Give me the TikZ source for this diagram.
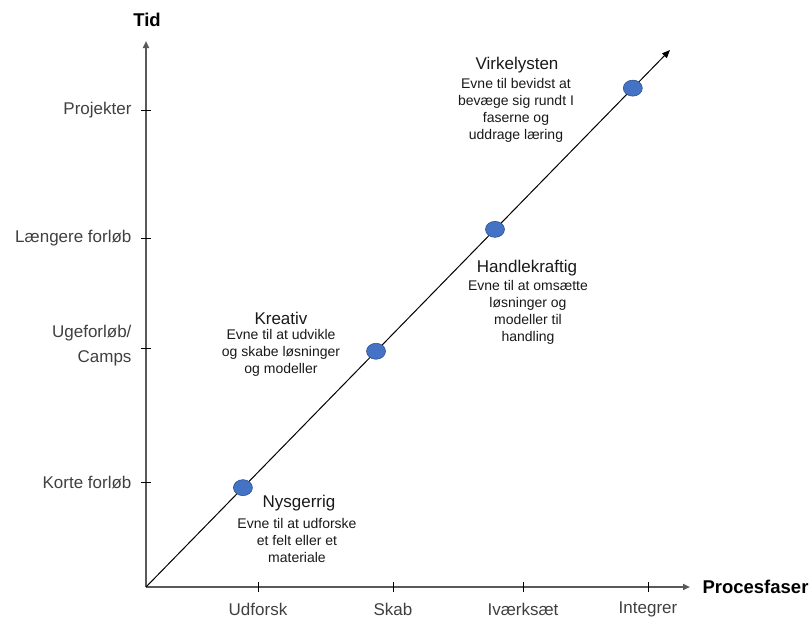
\documentclass[tikz,border=0pt]{standalone}
\usepackage{fontspec}
\setmainfont{Liberation Sans}
\usepackage{tikz}
\usetikzlibrary{arrows.meta,shapes.geometric}

\definecolor{aksegraa}{HTML}{595959}
\definecolor{tekstgraa}{HTML}{404040}
\definecolor{prikblaa}{HTML}{4472C4}
\definecolor{prikkant}{HTML}{2F528F}

\tikzset{
  akse/.style={draw=aksegraa,line width=2pt,-{Triangle[length=7pt,width=6pt]}},
  tickmark/.style={draw=black,line width=1pt},
  ylab/.style={anchor=east,text=tekstgraa,font=\fontsize{17}{25}\selectfont,align=right},
  xlab/.style={text=tekstgraa,font=\fontsize{17}{21}\selectfont},
  aksetitel/.style={font=\bfseries\fontsize{18.5}{21}\selectfont},
  fasedot/.style={ellipse,minimum width=19pt,minimum height=16pt,inner sep=0pt,fill=prikblaa,draw=prikkant,line width=0.6pt},
  fasenavn/.style={text=black!90,font=\fontsize{17}{20}\selectfont},
  fasetekst/.style={text=black!90,font=\fontsize{14}{17}\selectfont,align=center}
}

\begin{document}
\begin{tikzpicture}[x=1pt,y=-1pt]
  \useasboundingbox (0,0) rectangle (812,619);
  % akser
  \coordinate (o) at (146,587);
  \coordinate (ytop) at (146,41);
  \coordinate (xend) at (690,587);
  \coordinate (diagend) at (670,50);
  \draw[akse] (o) -- (ytop);
  \draw[akse] (o) -- (xend);
  \draw (147,20) node[aksetitel] (tid) {Tid};
  \draw (699,587) node[aksetitel,anchor=west] (procesfaser) {Procesfaser};

  % tid
  \foreach \y in {110,238,348,482} \draw[tickmark] (141,\y) -- (151,\y);
  \draw (135,110) node[ylab] (projekter) {Projekter};
  \draw (135,238) node[ylab] (laengere) {Længere forløb};
  \draw (135,346) node[ylab] (uge) {Ugeforløb/\\Camps};
  \draw (135,482) node[ylab] (korte) {Korte forløb};

  % procesfaser
  \foreach \x in {258,393,523,648} \draw[tickmark] (\x,582) -- (\x,592);
  \draw (258,609) node[xlab] (udforsk) {Udforsk};
  \draw (393,609) node[xlab] (skab) {Skab};
  \draw (523,609) node[xlab] (ivaerksaet) {Iværksæt};
  \draw (648,609) node[xlab] (integrer) {Integrer};

  % diagonal med faser
  \draw[black,line width=1pt,-{Triangle[length=8pt,width=6.5pt]}] (o) -- (diagend)
    node[fasedot,pos=0.185] (nys) {}
    node[fasedot,pos=0.439] (kre) {}
    node[fasedot,pos=0.666] (han) {}
    node[fasedot,pos=0.929] (vir) {};

  \draw (299,503) node[fasenavn] (nysgerrig) {Nysgerrig};
  \draw (297,540) node[fasetekst] (nysgerrigtxt) {Evne til at udforske\\et felt eller et\\materiale};
  \draw (281,318) node[fasenavn] (kreativ) {Kreativ};
  \draw (281,353) node[fasetekst] (kreativtxt) {Evne til at udvikle\\og skabe løsninger\\og modeller};
  \draw (527,268) node[fasenavn] (handlekraftig) {Handlekraftig};
  \draw (528,312) node[fasetekst] (handlekraftigtxt) {Evne til at omsætte\\løsninger og\\modeller til\\handling};
  \draw (517,65) node[fasenavn] (virkelysten) {Virkelysten};
  \draw (516,110) node[fasetekst] (virkelystentxt) {Evne til bevidst at\\bevæge sig rundt I\\faserne og\\uddrage læring};
\end{tikzpicture}
\end{document}
